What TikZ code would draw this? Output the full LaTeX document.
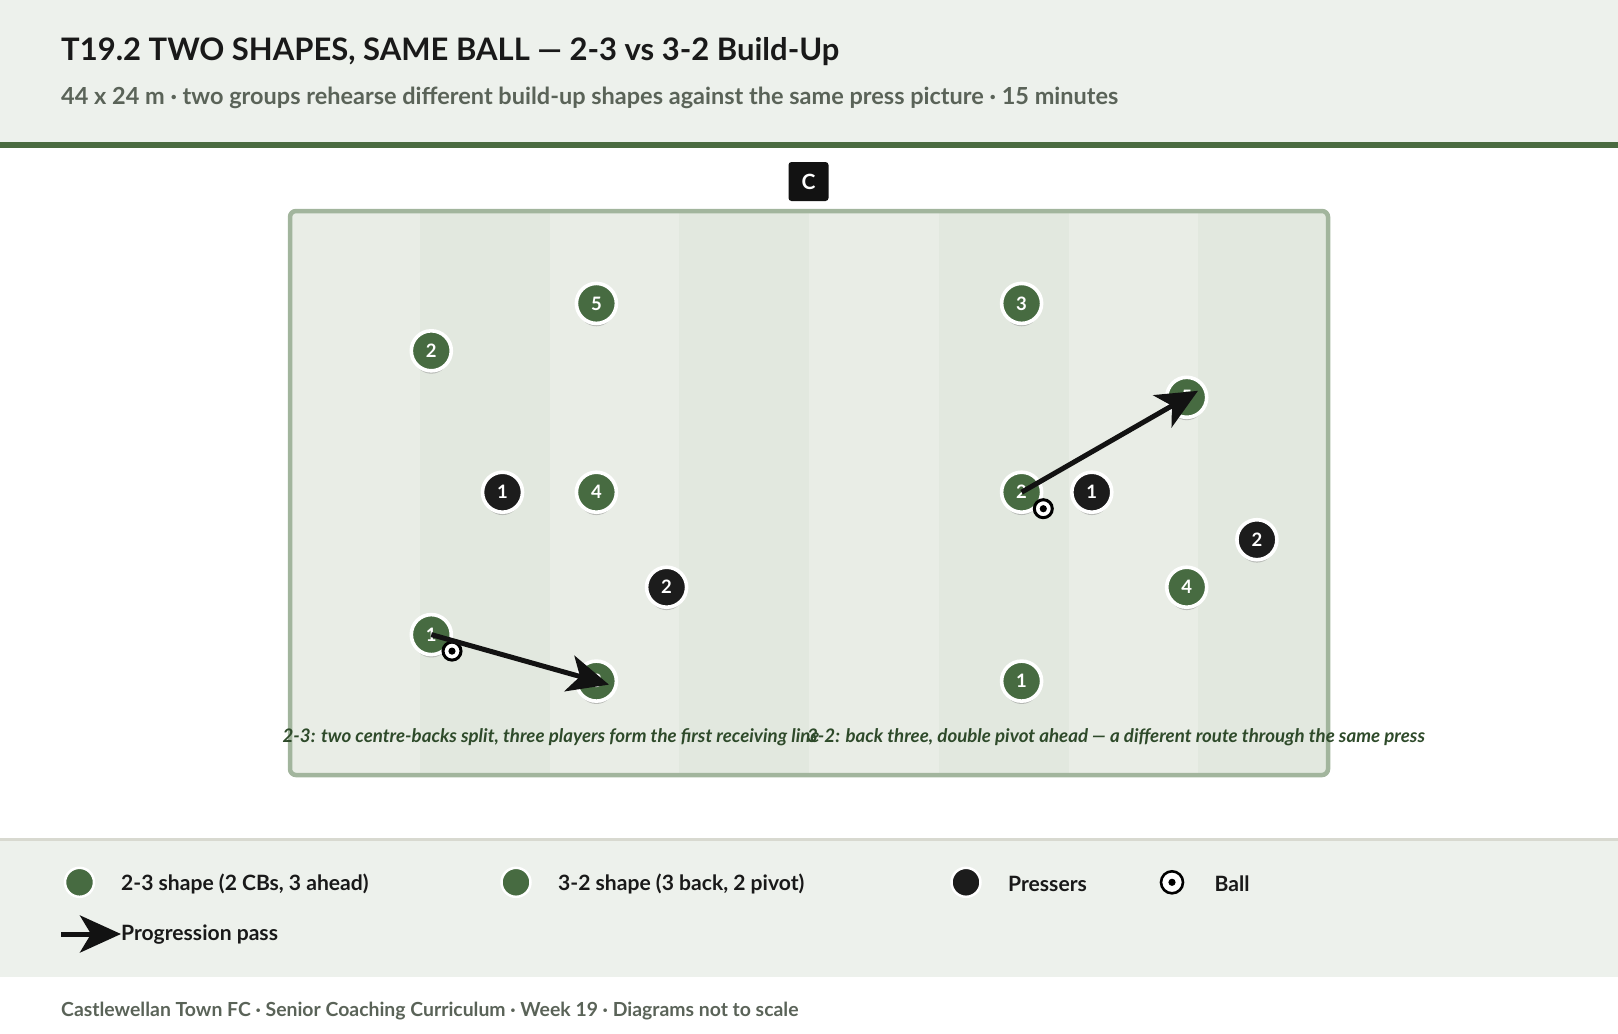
\documentclass[tikz,border=0pt]{standalone}
\usepackage{fontspec}
\setmainfont{Lato}
\usetikzlibrary{arrows.meta}
\usetikzlibrary{shadows}
\definecolor{headbg}{HTML}{EDF1EC}
\definecolor{teamgreen}{HTML}{476B41}
\definecolor{rulegreen}{HTML}{4A6B40}
\definecolor{pitchedge}{HTML}{A2B59D}
\definecolor{stripel}{HTML}{E9EDE6}
\definecolor{striped}{HTML}{E2E8DF}
\definecolor{presser}{HTML}{1C1C1C}
\definecolor{capgreen}{HTML}{2E4A2A}
\definecolor{subgray}{HTML}{5A6358}
\definecolor{sepgray}{HTML}{D8D9D0}
\tikzset{
    titletext/.style = {anchor=base west, inner sep=0pt, text=black!90, font=\bfseries\fontsize{31}{36}\selectfont},
    subtext/.style = {anchor=base west, inner sep=0pt, text=subgray, font=\bfseries\fontsize{23.5}{28}\selectfont},
    foottext/.style = {anchor=base west, inner sep=0pt, text=subgray, font=\bfseries\fontsize{19.4}{23}\selectfont},
    captext/.style = {inner sep=0pt, text=capgreen, font=\bfseries\itshape\fontsize{18.7}{22}\selectfont},
    legtext/.style = {anchor=west, inner sep=0pt, text=black!90, font=\bfseries\fontsize{21.1}{25}\selectfont},
    cbox/.style = {rectangle, rounded corners=3pt, fill=black!93, text=white, minimum width=40pt, minimum height=39pt, font=\bfseries\fontsize{21}{21}\selectfont},
    pitchline/.style = {draw=pitchedge, line width=4.5pt, rounded corners=6pt},
    greenp/.style = {circle, draw=white, line width=3.6pt, fill=teamgreen, minimum size=40pt, inner sep=0pt, text=white, font=\bfseries\fontsize{18.5}{18.5}\selectfont, drop shadow={shadow xshift=0pt, shadow yshift=-6pt, shadow scale=0.88, fill=black!45, opacity=0.5}},
    blackp/.style = {greenp, fill=presser},
    ballp/.style = {circle, draw=black, line width=3pt, fill=white, minimum size=18pt, inner sep=0pt, path picture={\fill[black] (path picture bounding box.center) circle (3.6pt);}},
    greenleg/.style = {circle, draw=white, line width=2.5pt, fill=teamgreen, minimum size=29pt, inner sep=0pt},
    blackleg/.style = {greenleg, fill=presser},
    ballleg/.style = {ballp, minimum size=22pt, line width=2.6pt},
    edgep/.style = {line width=5pt, black!93, -{Stealth[length=41pt, width=37pt, inset=11pt]}, shorten >=-13pt}
}
\begin{document}
\begin{tikzpicture}[x=1pt, y=-1pt]
\useasboundingbox (0,0) rectangle (1618,1034);
%
\fill[headbg] (0,0) rectangle (1618,142);
\fill[rulegreen] (0,142) rectangle (1618,148);
\node[titletext] at (61,60) (title) {T19.2 TWO SHAPES, SAME BALL — 2-3 vs 3-2 Build-Up};
\node[subtext] at (61,104) (sub) {44 x 24 m · two groups rehearse different build-up shapes against the same press picture · 15 minutes};
%
\node[cbox] at (808.5,181.5) (c) {C};
\begin{scope}
\clip[rounded corners=6pt] (290,211) rectangle (1328,775);
\fill[stripel] (290,211) rectangle (1328,775);
\fill[striped] (419.75,211) rectangle (549.5,775);
\fill[striped] (679.25,211) rectangle (809,775);
\fill[striped] (938.75,211) rectangle (1068.5,775);
\fill[striped] (1198.25,211) rectangle (1328,775);
\end{scope}
\draw[pitchline] (290,211) rectangle (1328,775);
%
\node[greenp] at (596.4,303.4) (la5) {5};
\node[greenp] at (431.3,350.8) (la2) {2};
\node[blackp] at (502.5,492.2) (lp1) {1};
\node[greenp] at (596.4,492.2) (la4) {4};
\node[blackp] at (666.6,587.2) (lp2) {2};
\node[greenp] at (431.3,634.6) (la1) {1};
\node[greenp] at (596.4,681.1) (la3) {3};
%
\node[greenp] at (1021.6,303.4) (rb3) {3};
\node[greenp] at (1186.7,397.3) (rb5) {5};
\node[greenp] at (1021.6,492.2) (rb2) {2};
\node[blackp] at (1091.8,492.2) (rp1) {1};
\node[blackp] at (1256.9,539.7) (rp2) {2};
\node[greenp] at (1186.7,587.2) (rb4) {4};
\node[greenp] at (1021.6,681.1) (rb1) {1};
%
\node[ballp] at (452,651.1) (lball) {};
\node[ballp] at (1043.3,508.7) (rball) {};
\draw[edgep] (la1.center) -- (la3.center);
\draw[edgep] (rb2.center) -- (rb5.center);
%
\node[captext] at (551,737.5) (lcap) {2-3: two centre-backs split, three players form the first receiving line};
\node[captext] at (1116,737.5) (rcap) {3-2: back three, double pivot ahead — a different route through the same press};
%
\fill[sepgray] (0,838) rectangle (1618,841);
\fill[headbg] (0,841) rectangle (1618,977);
\node[greenleg] at (79.5,882.3) (leg1) {};
\node[legtext] at (121,884) (leg1t) {2-3 shape (2 CBs, 3 ahead)};
\node[greenleg] at (516,882.3) (leg2) {};
\node[legtext] at (558,884) (leg2t) {3-2 shape (3 back, 2 pivot)};
\node[blackleg] at (966,882.3) (leg3) {};
\node[legtext] at (1008,884) (leg3t) {Pressers};
\node[ballleg] at (1172,882.3) (leg4) {};
\node[legtext] at (1214.5,884) (leg4t) {Ball};
\coordinate (arrs) at (61,934);
\coordinate (arre) at (108,934);
\draw[edgep] (arrs) -- (arre);
\node[legtext] at (121,935) (leg5t) {Progression pass};
%
\node[foottext] at (61,1016) (foot) {Castlewellan Town FC · Senior Coaching Curriculum · Week 19 · Diagrams not to scale};
\end{tikzpicture}
\end{document}
